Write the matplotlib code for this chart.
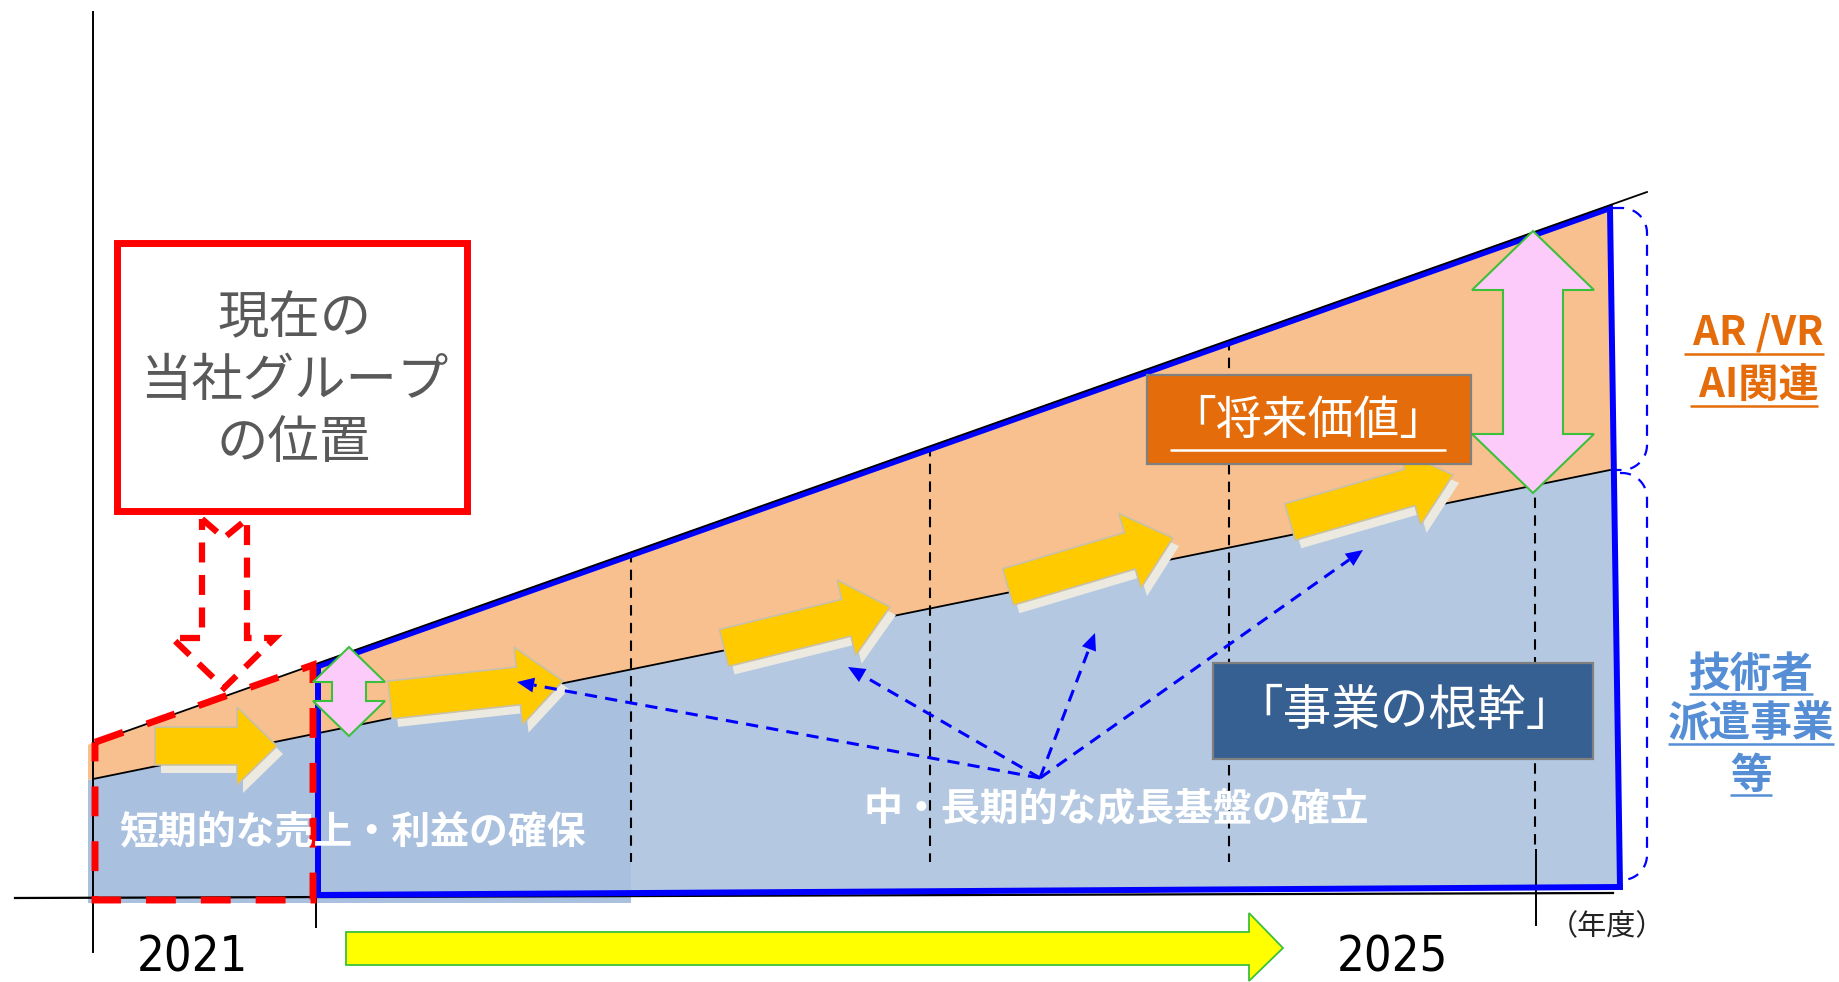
import numpy as np
import matplotlib
matplotlib.use('Agg')
import matplotlib.pyplot as plt
from matplotlib.patches import Polygon, Rectangle

plt.rcParams['font.family'] = ['Noto Sans CJK JP', 'DejaVu Sans']

W, H = 1840, 982

# growth lines, picture pixel space (y grows downwards)
upper_x = [93, 1647]
upper_y = [743, 192]
mid_x = [93, 1610]
mid_y = [779, 470]

axis_x0, axis_y0 = 93, 898
period_x = [631, 930, 1229, 1535]
tick_x = [316, 1536]
year_labels = ['2021', '2025']
year_label_x = [192, 1392]

# gold "growth" arrows: tail centre, tip
gold_tails = [(155, 746), (390, 700), (724, 648), (1008, 587), (1290, 522)]
gold_tips = [(277, 746), (563, 681), (890, 607), (1173, 538), (1453, 475)]

# blue dotted pointers from the caption to the arrows
pointer_from = (1040, 778)
pointer_tips = [(517, 682), (848, 667), (1095, 633), (1363, 550)]

# pink double arrows: x, top, bottom, head half width, shaft half width, head length
pink_arrows = [(349, 647, 736, 36, 17, 35), (1533, 231, 493, 61, 30, 59)]

c_orange = '#F8C08F'
c_blue_l = '#A9C0DF'
c_blue_r = '#B4C9E1'
c_gold = '#FFCA00'
c_shadow = '#ECEAE0'


def yline(xs, ys, x):
    return ys[0] + (ys[1] - ys[0]) * (x - xs[0]) / (xs[1] - xs[0])


def up(x):
    return yline(upper_x, upper_y, x)


def mid(x):
    return yline(mid_x, mid_y, x)


def arrow_poly(tail, tip, w, hw, hl):
    tail = np.array(tail, float)
    tip = np.array(tip, float)
    d = tip - tail
    u = d / np.hypot(*d)
    n = np.array([-u[1], u[0]])
    b = tip - u * hl
    return np.array([tail + n * w, b + n * w, b + n * hw, tip,
                     b - n * hw, b - n * w, tail - n * w])


def double_arrow(x, y0, y1, hw, sw, hl):
    return [(x, y0), (x + hw, y0 + hl), (x + sw, y0 + hl), (x + sw, y1 - hl),
            (x + hw, y1 - hl), (x, y1), (x - hw, y1 - hl), (x - sw, y1 - hl),
            (x - sw, y0 + hl), (x - hw, y0 + hl)]


def bracket(x0, x1, y0, y1, r):
    t = np.linspace(0, np.pi / 2, 20)
    xs = [x0] + list(x1 - r + r * np.sin(t)) + list(x1 - r + r * np.cos(t)) + [x0]
    ys = [y0] + list(y0 + r - r * np.cos(t)) + list(y1 - r + r * np.sin(t)) + [y1]
    return xs, ys


fig = plt.figure(figsize=(W / 100, H / 100), dpi=100)
ax = fig.add_axes([0, 0, 1, 1])
ax.set_xlim(0, W)
ax.set_ylim(H, 0)
ax.axis('off')

# fills
ax.add_patch(Polygon([(88, mid(88)), (631, mid(631)), (631, 903), (88, 903)],
                     closed=True, fc=c_blue_l, ec='none', zorder=1))
ax.add_patch(Polygon([(631, mid(631)), (1614, mid(1614)), (1620, 887), (631, 893)],
                     closed=True, fc=c_blue_r, ec='none', zorder=1))
ax.add_patch(Polygon([(88, up(88)), (1610, up(1610)), (1614, mid(1614)), (88, mid(88))],
                     closed=True, fc=c_orange, ec='none', zorder=1))

# period separators
for x in period_x:
    ax.plot([x, x], [up(x), 850 if x == period_x[-1] else 862], color='black',
            lw=1.5, ls=(0, (5, 3.5)), zorder=2)

# axes
ax.plot([axis_x0, axis_x0], [12, 952], color='black', lw=1.4, zorder=3)
ax.plot([15, 1613], [axis_y0, 893], color='black', lw=1.6, zorder=3)
ax.plot([tick_x[0], tick_x[0]], [axis_y0, 927], color='black', lw=1.4, zorder=3)
ax.plot([tick_x[1], tick_x[1]], [850, 925], color='black', lw=1.4, zorder=3)

# blue outline of the plan period (sits just under the upper growth line)
ax.add_patch(Polygon([(318, up(318) + 3), (1610, up(1610) + 3), (1620, 887), (318, 895)],
                     closed=True, fill=False, ec='#0000FF', lw=4.3,
                     joinstyle='miter', zorder=4))

# growth lines on top
ax.plot(upper_x, upper_y, color='black', lw=1.3, zorder=4.5)
ax.plot(mid_x, mid_y, color='black', lw=1.3, zorder=3)

# red dashed box: current position
ax.add_patch(Polygon([(95, up(95)), (313, up(313)), (313, 900), (95, 900)],
                     closed=True, fill=False, ec='#FF0000', lw=5,
                     ls=(0, (4.3, 3.6)), zorder=5))

# gold arrows with shadow
for i, (tl, tp) in enumerate(zip(gold_tails, gold_tips)):
    hl = 40 if i == 0 else 45
    pts = arrow_poly(tl, tp, 19, 39, hl)
    ax.add_patch(Polygon(pts + np.array([6, 8]), closed=True, fc=c_shadow,
                         ec='none', zorder=5))
    ax.add_patch(Polygon(pts, closed=True, fc=c_gold, ec='#C8C0A8', lw=1.2,
                         zorder=6))

# pink double arrows
for x, y0, y1, hw, sw, hl in pink_arrows:
    ax.add_patch(Polygon(double_arrow(x, y0, y1, hw, sw, hl), closed=True,
                         fc='#FCCBFA', ec='#3CC03C', lw=1.5, zorder=7))

# blue dotted pointers
for tip in pointer_tips:
    p0 = np.array(pointer_from, float)
    p1 = np.array(tip, float)
    u = (p1 - p0) / np.hypot(*(p1 - p0))
    n = np.array([-u[1], u[0]])
    b = p1 - u * 17
    ax.plot([p0[0], b[0]], [p0[1], b[1]], color='#0000FF', lw=2.2,
            ls=(0, (4, 2.7)), zorder=8)
    ax.add_patch(Polygon([p1, b + n * 7.5, b - n * 7.5], closed=True,
                         fc='#0000FF', ec='none', zorder=8))

# side brackets
bx, by = bracket(1613, 1647, 208, 470, 25)
ax.plot(bx, by, color='#0000FF', lw=1.6, ls=(0, (5, 4)), zorder=4)
bx, by = bracket(1620, 1647, 473, 880, 25)
ax.plot(bx, by, color='#0000FF', lw=1.6, ls=(0, (5, 4)), zorder=4)

# red box and its dashed arrow
ax.add_patch(Rectangle((117, 243), 350, 268, fc='white', ec='#FF0000', lw=5,
                       joinstyle='miter', zorder=6))
ax.text(294, 381, '現在の\n当社グループ\nの位置', ha='center', va='center',
        fontsize=37, color='#595959', linespacing=1.22, zorder=7)
red_arrow = [(202, 519), (224, 538), (247, 519), (247, 638), (275, 638),
             (224, 688), (172, 638), (202, 638)]
ax.add_patch(Polygon(red_arrow, closed=True, fill=False, ec='#FF0000', lw=4.5,
                     ls=(0, (3.2, 2.0)), zorder=6))

# bottom yellow arrow
ax.add_patch(Polygon([(346, 932), (1249, 932), (1249, 913), (1283, 948),
                      (1249, 981), (1249, 965), (346, 965)], closed=True,
                     fc='#FFFF00', ec='#3CC03C', lw=1.3, zorder=5))

# labels inside areas
ax.text(353, 833, '短期的な売上・利益の確保', ha='center', va='center', fontsize=28,
        fontweight='bold', color='white', zorder=9)
ax.text(1116, 810, '中・長期的な成長基盤の確立', ha='center', va='center', fontsize=28,
        fontweight='bold', color='white', zorder=9)

# boxes
ax.add_patch(Rectangle((1147, 375), 324, 89, fc='#E46C0A', ec='#808080', lw=1.6,
                       zorder=9))
t_future = ax.text(1308, 421, '「将来価値」', ha='center', va='center', fontsize=33,
                   color='white', zorder=10)
ax.add_patch(Rectangle((1213, 663), 380, 96, fc='#376092', ec='#808080', lw=1.6,
                       zorder=9))
ax.text(1405, 711, '「事業の根幹」', ha='center', va='center', fontsize=35,
        color='white', zorder=10)

# right side captions
side_texts = []
for txt, y in [(' AR /VR', 333), (' AI関連', 385)]:
    t = ax.text(1754, y, txt, ha='center', va='center', fontsize=29,
                fontweight='bold', color='#E46C0A', zorder=10)
    side_texts.append((t, y + 21, '#E46C0A'))
for txt, y in [('技術者', 675), ('派遣事業', 725), ('等', 776)]:
    t = ax.text(1751, y, txt, ha='center', va='center', fontsize=30,
                fontweight='bold', color='#558ED5', zorder=10)
    side_texts.append((t, y + 19, '#558ED5'))

# year labels
for x, lab in zip(year_label_x, year_labels):
    ax.text(x, 958, lab, ha='center', va='center', fontsize=35,
            family='DejaVu Sans', fontstretch='condensed',
            color='black', zorder=10)
ax.text(1607, 927, '（年度）', ha='center', va='center', fontsize=21,
        color='#222222', zorder=10)

# underlines
fig.canvas.draw()
renderer = fig.canvas.get_renderer()
side_texts.append((t_future, 450, 'white'))
for t, y, col in side_texts:
    bb = t.get_window_extent(renderer)
    ax.plot([bb.x0, bb.x1], [y, y], color=col, lw=1.8, zorder=10,
            solid_capstyle='butt')

fig.savefig('out.png', dpi=100)
